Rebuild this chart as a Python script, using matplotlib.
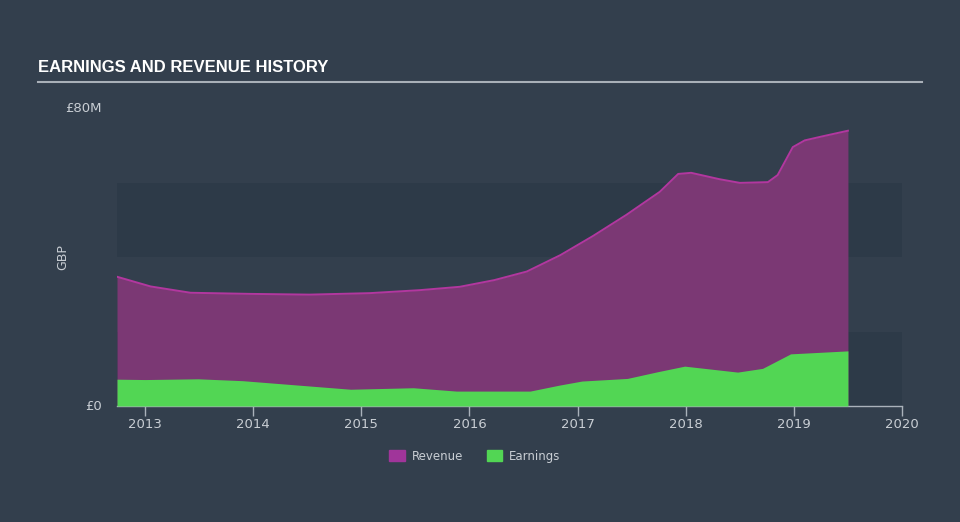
import matplotlib.pyplot as plt
from matplotlib.patches import Patch
from matplotlib.lines import Line2D

# --- data (GBP millions, decimal years) ---
rev_years = [2012.74, 2013.05, 2013.42, 2013.97, 2014.52, 2015.08, 2015.54, 2015.91,
             2016.23, 2016.53, 2016.84, 2017.14, 2017.45, 2017.76, 2017.93, 2018.05,
             2018.31, 2018.50, 2018.76, 2018.85, 2018.99, 2019.10, 2019.25, 2019.50]
revenue = [34.7, 32.1, 30.4, 30.1, 29.9, 30.3, 31.1, 32.0,
           33.8, 36.1, 40.5, 45.6, 51.3, 57.5, 62.3, 62.6,
           60.9, 59.9, 60.1, 62.0, 69.5, 71.3, 72.3, 73.9]

earn_years = [2012.74, 2013.00, 2013.49, 2013.90, 2014.90, 2015.48, 2015.88, 2016.56,
              2016.83, 2017.04, 2017.46, 2017.74, 2017.99, 2018.48, 2018.71, 2018.97, 2019.50]
earnings = [7.2, 7.1, 7.3, 6.8, 4.5, 4.9, 4.0, 4.0,
            5.6, 6.7, 7.4, 9.2, 10.7, 9.1, 10.1, 14.0, 14.8]

year_ticks = [2013, 2014, 2015, 2016, 2017, 2018, 2019, 2020]

BG = '#333f4d'
BAND = '#2d3a48'
TXT = '#c9ced4'
REV_FILL = '#7b3874'
REV_LINE = '#b2379f'
EARN = '#52d654'

fig = plt.figure(figsize=(9.6, 5.22), dpi=100, facecolor=BG)
ax = fig.add_axes([117/960, 116/522, 785/960, 298/522])
ax.set_facecolor(BG)

# dark horizontal bands
for lo, hi in [(0, 20), (40, 60)]:
    ax.axhspan(lo, hi, color=BAND, zorder=0, lw=0)

ax.fill_between(rev_years, 0, revenue, color=REV_FILL, lw=0, zorder=1)
ax.plot(rev_years, revenue, color=REV_LINE, lw=1.4, zorder=2)
ax.fill_between(earn_years, 0, earnings, color=EARN, lw=0, zorder=3)

ax.set_xlim(2012.74, 2020)
ax.set_ylim(0, 80)
ax.set_xticks(year_ticks)
ax.set_xticklabels([str(y) for y in year_ticks])
ax.set_yticks([0, 80])
ax.set_yticklabels(['£0', '£80M'])
ax.tick_params(axis='x', colors='#aab2bb', length=7, width=1, labelcolor=TXT,
               labelsize=9.5, pad=2)
ax.tick_params(axis='y', length=0, labelcolor=TXT, labelsize=9.5, pad=11)
for lab in ax.get_yticklabels():
    lab.set_verticalalignment('center')
for s in ['top', 'right', 'left']:
    ax.spines[s].set_visible(False)
ax.spines['bottom'].set_color('#aab2bb')
ax.spines['bottom'].set_linewidth(1)
ax.set_ylabel('GBP', color=TXT, fontsize=9)
ax.yaxis.set_label_coords(-0.061, 0.5)

# title and rule
fig.text(38/960, 1 - 67/522, 'EARNINGS AND REVENUE HISTORY', color='white',
         fontsize=12, fontweight='bold', family='Liberation Sans', va='center')
fig.add_artist(Line2D([38/960, 922/960], [1 - 82/522, 1 - 82/522],
                      color='#a9b0b8', lw=1.5))

handles = [Patch(color='#a0359a', label='Revenue'), Patch(color=EARN, label='Earnings')]
leg = fig.legend(handles=handles, loc='center', bbox_to_anchor=(475/960, 1 - 456/522),
                 ncol=2, frameon=False, fontsize=8.5, handlelength=1.3,
                 handleheight=1.0, columnspacing=2.0, handletextpad=0.6)
for t in leg.get_texts():
    t.set_color(TXT)

fig.savefig('out.png', dpi=100, facecolor=BG)
